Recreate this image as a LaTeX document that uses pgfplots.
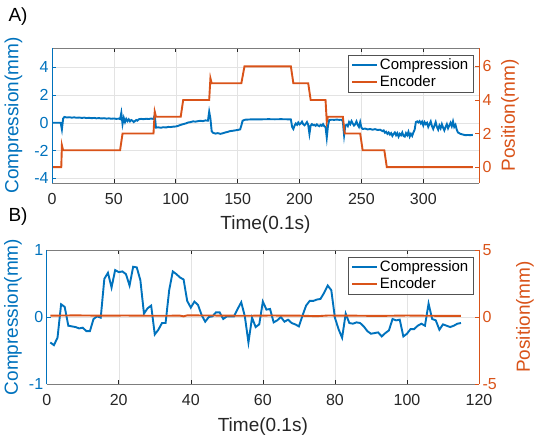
\documentclass[border=0pt]{standalone}
\usepackage{pgfplots}
\pgfplotsset{compat=1.18}
\usepackage{fontspec}
\setmainfont{Liberation Sans}
\definecolor{cblue}{RGB}{0,114,189}
\definecolor{corange}{RGB}{217,83,25}
\definecolor{cgray}{RGB}{38,38,38}
\pgfplotsset{
  common/.style={
    scale only axis, anchor=south west,
    /pgf/number format/assume math mode=true,
    tick align=inside, major tick length=4bp,
    ticklabel style={font=\fontsize{16bp}{19bp}\selectfont},
    separate axis lines,
    axis line style={line width=0.7bp},
    every tick/.style={line width=0.6bp},
    legend image code/.code={\draw[#1, line width=2bp] (0bp,0bp) -- (25bp,0bp);},
  },
  leftax/.style={common,
    axis x line*=box, axis y line*=left,
    every outer x axis line/.append style={cgray!60},
    every outer y axis line/.append style={cblue},
    xtick style={cgray}, ytick style={cblue},
    x tick label style={cgray, yshift=-7bp}, y tick label style={cblue},
    grid=major, grid style={gray!22, line width=0.5bp},
    every axis y label/.style={at={(axis description cs:#1,0.5)}, rotate=90, anchor=center, cblue, font=\fontsize{19bp}{23bp}\selectfont},
  },
  rightax/.style={common,
    axis x line=none, axis y line*=right,
    every outer y axis line/.append style={corange},
    ytick style={corange}, y tick label style={corange},
    every axis y label/.style={at={(axis description cs:#1,0.5)}, rotate=90, anchor=center, corange, font=\fontsize{19bp}{23bp}\selectfont},
    legend style={at={(1,1)}, anchor=north east, xshift=-6bp, yshift=-7bp,
      draw=cgray!80, fill=white,
      font=\fontsize{15bp}{18bp}\selectfont,
      inner xsep=3bp, inner ysep=1bp, row sep=0bp,
      nodes={inner xsep=1.5bp, inner ysep=2.5bp}, cells={anchor=west}},
  },
}
\begin{document}
\begin{tikzpicture}
\useasboundingbox (0,0) rectangle (551bp,443bp);
\node[font=\fontsize{19bp}{23bp}\selectfont] at (18bp,426.5bp) {A)};
\node[font=\fontsize{19bp}{23bp}\selectfont] at (18bp,226.5bp) {B)};
% ---------- Panel A ----------
\begin{axis}[leftax=-0.0902, at={(52bp,260bp)}, width=427bp, height=135bp,
  xmin=0, xmax=345, ymin=-4.35, ymax=5.4,
  xtick={0,50,...,300}, ytick={-4,-2,0,2,4},
  xlabel={Time(0.1s)}, ylabel={Compression(mm)},
  every axis x label/.style={at={(axis description cs:0.5,-0.311)}, anchor=center, cgray, font=\fontsize{19bp}{23bp}\selectfont}]
\addplot[cblue, line width=1.9bp] table {
1 0
7 0
8 -0.48
9 0.3
10 0.42
12 0.38
14 0.40
16 0.37
18 0.39
20 0.36
22 0.38
24 0.35
26 0.37
28 0.34
30 0.36
32 0.33
34 0.35
36 0.32
38 0.34
40 0.31
42 0.33
44 0.30
46 0.32
48 0.29
50 0.31
52 0.28
54 0.30
55 0.27
56 0.72
57 -0.1
58 0.35
59 0.05
60 0.28
61 0.12
62 0.25
63 0.1
64 0.2
65 0.15
66 0.05
67 0.12
68 0.2
69 0.15
70 0.25
72 0.28
74 0.26
76 0.29
78 0.27
80 0.3
82 0.28
83 0.55
84 -0.35
86 -0.33
88 -0.36
90 -0.32
92 -0.34
94 -0.30
96 -0.31
98 -0.28
100 -0.27
102 -0.22
104 -0.15
106 -0.1
108 -0.05
110 0.02
112 0.05
114 0.1
116 0.08
118 0.12
120 0.14
122 0.12
124 0.17
126 0.15
127 0.8
128 0.3
129 -0.6
130 -0.72
132 -0.78
134 -0.75
136 -0.8
138 -0.76
140 -0.7
142 -0.66
144 -0.6
146 -0.58
148 -0.55
150 -0.52
152 -0.48
153 -0.2
154 0.15
156 0.22
160 0.24
165 0.25
170 0.25
175 0.26
180 0.25
185 0.26
190 0.25
193 0.24
194 -0.3
195 -0.45
196 -0.2
197 -0.05
198 -0.15
199 0.02
200 -0.12
201 -0.05
202 0.08
203 -0.1
204 -0.18
205 -0.08
206 0.05
207 -0.15
208 -0.8
209 -0.2
210 -0.1
211 -0.18
212 -0.15
213 -0.22
214 -0.12
215 -0.2
216 -0.25
217 -0.15
218 -0.22
219 -0.1
220 -0.25
221 -0.3
222 -1.08
223 -0.2
224 0.2
226 0.22
228 0.21
230 0.23
232 0.21
234 0.22
235 0.1
236 -0.9
237 -0.2
238 -0.15
239 -0.25
240 0.05
241 -0.1
242 0.12
243 -0.05
244 -0.2
245 -0.1
246 0.1
247 -0.15
248 -0.3
249 0.05
250 -0.35
251 -0.45
253 -0.42
255 -0.48
257 -0.45
259 -0.5
261 -0.46
263 -0.52
265 -0.5
267 -0.6
268 -0.55
269 -0.72
270 -0.65
271 -0.8
272 -0.7
273 -0.85
274 -0.75
275 -0.95
276 -0.8
277 -0.7
278 -0.9
279 -0.75
280 -1.0
281 -0.8
282 -0.9
283 -0.7
284 -0.95
285 -1.0
286 -0.75
287 -0.9
288 -0.65
289 -1.0
290 -0.8
291 -0.95
292 -0.7
293 -0.5
294 0.05
295 0.1
296 0.02
297 0.12
298 -0.05
299 0.08
300 -0.2
301 0.05
302 -0.1
303 0.0
304 -0.3
305 -0.1
306 0.1
307 -0.25
308 -0.45
309 -0.2
310 0.05
311 -0.3
312 -0.5
313 -0.2
314 -0.4
315 -0.1
316 -0.35
317 -0.55
318 -0.3
319 -0.1
320 -0.4
321 -0.2
322 0.0
323 -0.25
324 0.1
325 -0.3
326 -0.15
327 -0.5
328 -0.7
330 -0.8
332 -0.85
334 -0.9
336 -0.88
338 -0.9
340 -0.87
};
\end{axis}
\begin{axis}[rightax=1.0726, at={(52bp,260bp)}, width=427bp, height=135bp,
  xmin=0, xmax=345, ymin=-0.95, ymax=7.1,
  ytick={0,2,4,6}, ylabel={Position(mm)}]
\addlegendimage{cblue}
\addlegendentry{Compression}
\addlegendimage{corange}
\addlegendentry{Encoder}
\addplot[corange, line width=1.9bp, forget plot] table {
1 0
7.5 0
8 1.3
9 1.0
55 1.0
57 2.0
82 2.0
83 3.3
84 3.0
104 3.0
106 4.0
127 4.0
128 5.3
129 5.0
153 5.0
155.5 6.0
193 6.0
195 5.0
207 5.0
209 4.0
221 4.0
222 2.7
223 3.0
235 3.0
236.5 2.0
249 2.0
251 1.0
268.5 1.0
270.5 0
340 0
};
\end{axis}
% ---------- Panel B ----------
\begin{axis}[leftax=-0.078, at={(46.7bp,59bp)}, width=432.3bp, height=134bp,
  xmin=0, xmax=120, ymin=-1, ymax=1,
  xtick={0,20,...,120}, ytick={-1,0,1},
  xlabel={Time(0.1s)}, ylabel={Compression(mm)},
  every axis x label/.style={at={(axis description cs:0.5,-0.317)}, anchor=center, cgray, font=\fontsize{19bp}{23bp}\selectfont}]
\addplot[cblue, line width=1.9bp] table {
1 -0.38
2 -0.42
3 -0.31
4 0.19
5 0.15
6 -0.13
7 -0.14
8 -0.15
9 -0.17
10 -0.16
11 -0.21
12 -0.21
13 -0.03
14 0.01
15 -0.01
16 0.57
17 0.66
18 0.44
19 0.70
20 0.67
21 0.68
22 0.64
23 0.47
24 0.75
25 0.74
26 0.55
27 0.05
28 0.13
29 0.17
30 -0.26
31 -0.19
32 -0.09
33 -0.09
34 0.40
35 0.68
36 0.64
37 0.59
38 0.56
39 0.24
40 0.14
41 0.23
42 0.18
43 0.03
44 -0.07
45 0.00
46 0.01
47 0.07
48 0.07
49 -0.03
50 0.01
51 0.01
52 0.01
53 0.12
54 0.22
55 0.01
56 -0.38
57 -0.01
58 -0.15
59 -0.11
60 0.23
61 0.11
62 0.12
63 -0.08
64 -0.05
65 0.00
66 -0.07
67 -0.04
68 -0.09
69 -0.11
70 -0.14
71 0.02
72 0.17
73 0.24
74 0.24
75 0.26
76 0.27
77 0.36
78 0.47
79 0.40
80 -0.01
81 -0.18
82 -0.31
83 0.05
84 -0.09
85 -0.10
86 -0.08
87 -0.09
88 -0.14
89 -0.21
90 -0.25
91 -0.24
92 -0.23
93 -0.29
94 -0.24
95 -0.20
96 -0.03
97 -0.05
98 -0.04
99 -0.29
100 -0.25
101 -0.18
102 -0.18
103 -0.13
104 -0.10
105 -0.13
106 0.20
107 -0.03
108 -0.05
109 -0.19
110 -0.11
111 -0.13
112 -0.15
113 -0.13
114 -0.10
115 -0.09
};
\end{axis}
\begin{axis}[rightax=1.1064, at={(46.7bp,59bp)}, width=432.3bp, height=134bp,
  xmin=0, xmax=120, ymin=-5, ymax=5,
  ytick={-5,0,5}, ylabel={Position(mm)}]
\addlegendimage{cblue}
\addlegendentry{Compression}
\addlegendimage{corange}
\addlegendentry{Encoder}
\addplot[corange, line width=1.9bp, forget plot] table {
1 0.10
8 0.12
15 0.10
22 0.11
30 0.09
37 0.10
38 0.05
39 0.12
46 0.11
55 0.09
62 0.11
70 0.10
75 0.06
78 0.11
85 0.10
92 0.08
100 0.11
107 0.09
115 0.08
};
\end{axis}
\end{tikzpicture}
\end{document}
